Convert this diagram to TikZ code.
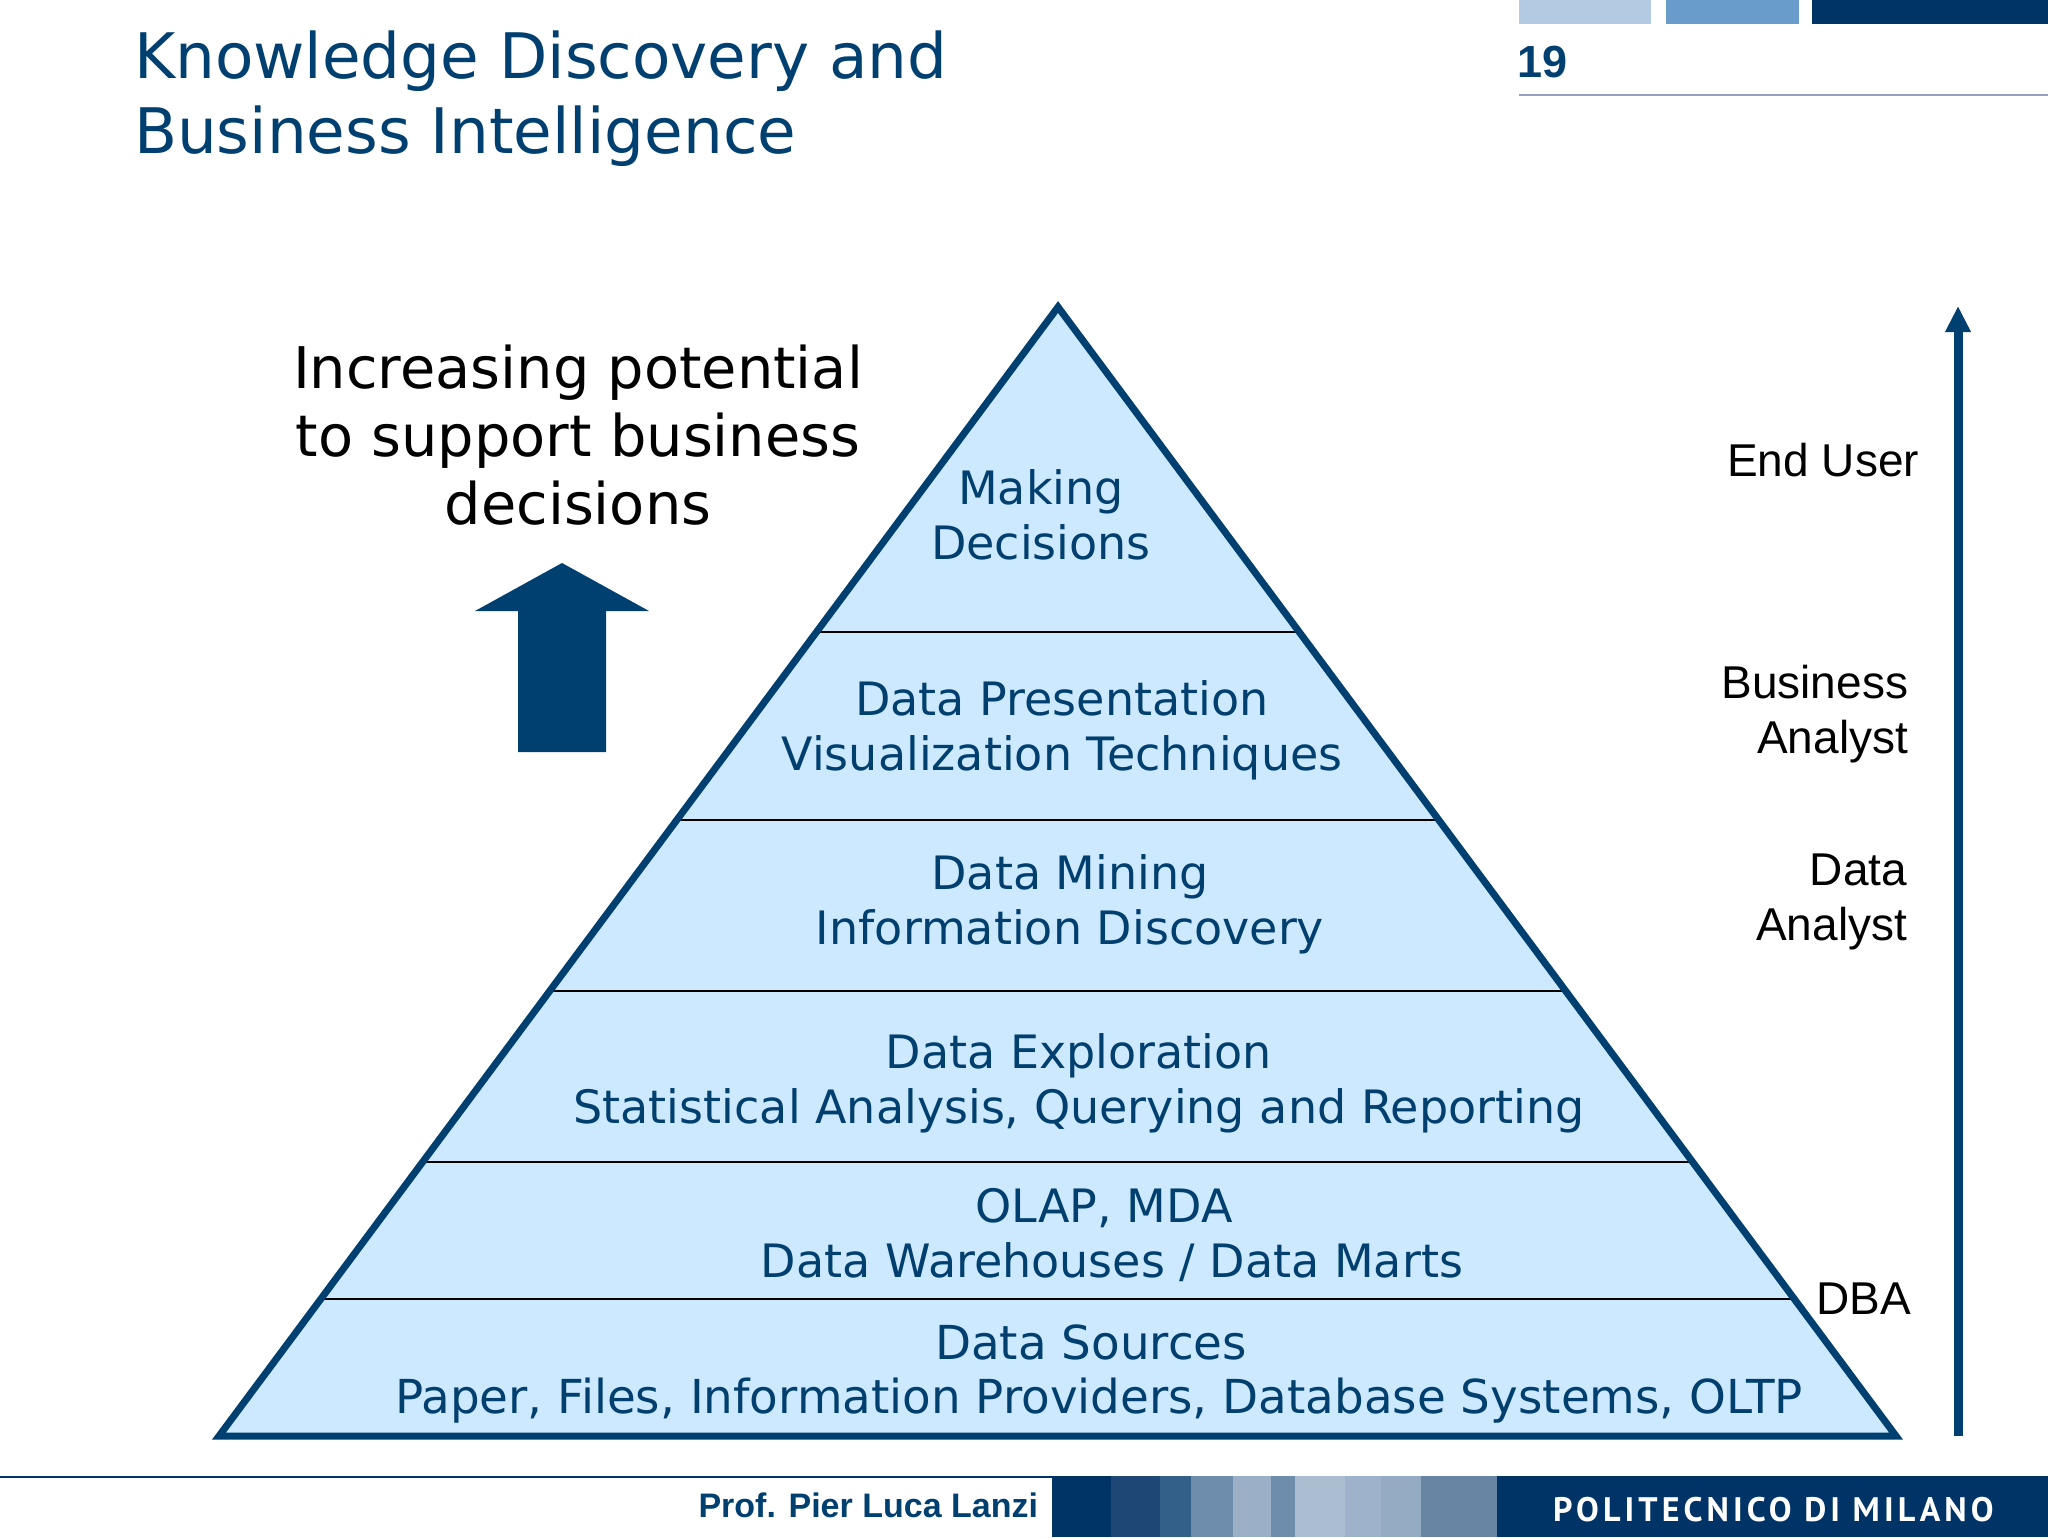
\documentclass[tikz,border=0pt]{standalone}
\usepackage{fontspec}
\setmainfont{DejaVu Sans}
\newfontfamily\arialfont{Liberation Sans}
\newfontfamily\polifont[LetterSpace=12]{PT Sans}
\usetikzlibrary{calc,positioning,arrows.meta}
\definecolor{polinavy}{HTML}{003366}
\definecolor{polititle}{HTML}{004070}
\definecolor{pyrfill}{HTML}{CCE9FF}
\definecolor{pyrtext}{HTML}{003F6E}
\begin{document}
\begin{tikzpicture}[
	x=0.5pt, y=-0.5pt,
	every node/.style = {inner sep=0pt, outer sep=0pt, align=center},
	title/.style = {color=polititle, font=\fontsize{31.4}{37.5}\selectfont, align=left, anchor=north west},
	layer/.style = {color=pyrtext, font=\fontsize{23}{27.4}\selectfont},
	role/.style = {color=black, font=\arialfont\fontsize{23}{27.4}\selectfont}
]
\useasboundingbox (0,0) rectangle (2048,1537);
\fill[white] (0,0) rectangle (2048,1537);

% header
\node[title] (title) at (134,31) {Knowledge Discovery and\\Business Intelligence};
\fill[polinavy] (1812,0) rectangle (2048,24);
\fill[color={rgb,255:red,105;green,155;blue,203}] (1666,0) rectangle (1799,24);
\fill[color={rgb,255:red,178;green,203;blue,227}] (1519,0) rectangle (1651,24);
\node[color=polititle, font=\arialfont\bfseries\fontsize{22.5}{27}\selectfont, anchor=west] (pagenum) at (1517,62) {19};
\coordinate (ruleL) at (1519,95);
\coordinate (ruleR) at (2048,95);
\draw[color={rgb,255:red,150;green,160;blue,190}, line width=1pt] (ruleL) -- (ruleR);

% pyramid
\coordinate (apex) at (1058,307);
\coordinate (baseL) at (219,1436);
\coordinate (baseR) at (1896,1436);
\fill[pyrfill] (apex) -- (baseR) -- (baseL) -- cycle;
\foreach \t/\n in {.2880/a,.4545/b,.6060/c,.7570/d,.8790/e}
	\draw[black, line width=1pt] ($(apex)!\t!(baseL)$) -- ($(apex)!\t!(baseR)$);
\draw[polititle, line width=3.5pt, line join=miter] (apex) -- (baseR) -- (baseL) -- cycle;

\node[layer] (making) at (1041,515) {Making\\Decisions};
\node[layer] (presentation) at (1062,730) {Data Presentation\\Visualization Techniques};
\node[layer] (mining) at (1070,904) {Data Mining\\Information Discovery};
\node[layer] (exploration) at (1079,1083) {Data Exploration\\Statistical Analysis, Querying and Reporting};
\node[layer] (olap) at (1112,1235) {OLAP, MDA\hspace*{8pt}\\Data Warehouses / Data Marts};
\node[layer, font=\fontsize{23.4}{27.4}\selectfont] (sources) at (1099,1374) {Data Sources\hspace*{8pt}\\Paper, Files, Information Providers, Database Systems, OLTP};

% left side
\node[color=black, font=\fontsize{28.7}{34}\selectfont] (potential) at (578,435) {Increasing potential\\to support business\\decisions};
\fill[polititle] (562,563) -- (649,611) -- (606,611) -- (606,752) -- (518,752) -- (518,611) -- (475,611) -- cycle;

% right side
\node[role, align=right, anchor=east] (enduser) at (1919,460) {End User};
\node[role, align=right, anchor=east] (business) at (1908,714) {Business\\Analyst};
\node[role, align=right, anchor=east] (dataanalyst) at (1907,902) {Data\\Analyst};
\node[role, anchor=east] (dba) at (1911,1299) {DBA};
\coordinate (axisB) at (1958,1436);
\coordinate (axisT) at (1958,306);
\draw[polititle, line width=4.5pt, -{Triangle[length=13pt,width=12pt]}] (axisB) -- (axisT);

% footer
\coordinate (footL) at (0,1477);
\coordinate (footR) at (1052,1477);
\draw[polinavy, line width=1pt] (footL) -- (footR);
\node[color=polititle, font=\arialfont\bfseries\fontsize{17}{20}\selectfont, anchor=east] (prof) at (1038,1505) {Prof. Pier Luca Lanzi};
\fill[polinavy] (1052,1476) rectangle (2048,1537);
\foreach \xa/\xb/\r/\g/\b in {
	1111/1160/31/71/118,
	1160/1191/51/96/136,
	1191/1233/110/141/172,
	1233/1271/155/175/198,
	1271/1295/110/141/172,
	1295/1345/171/189/208,
	1345/1381/159/178/203,
	1381/1421/149/171/195,
	1421/1497/105/133/164}
	\fill[color={rgb,255:red,\r;green,\g;blue,\b}] (\xa,1476) rectangle (\xb,1537);
\node[color=white, font=\polifont\bfseries\fontsize{17}{18}\selectfont, anchor=west] (poli) at (1553,1510) {POLITECNICO DI MILANO};
\end{tikzpicture}
\end{document}
